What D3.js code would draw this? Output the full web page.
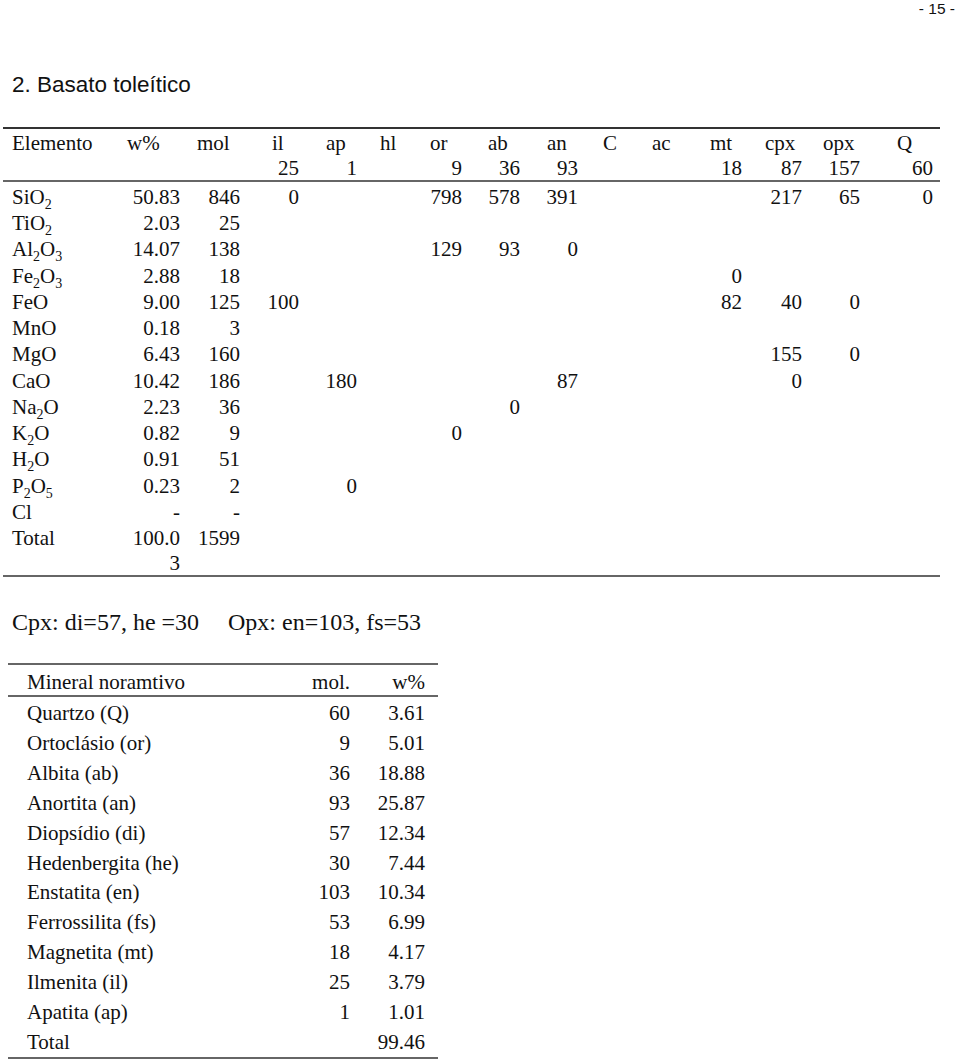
<!DOCTYPE html>
<html>
<head>
<meta charset="utf-8">
<script src="https://cdn.jsdelivr.net/npm/d3@7"></script>
<style>
  body { margin: 0; background: #fff; }
  svg { display: block; }
</style>
</head>
<body>
<div id="chart"></div>
<script>
// rows of the first table (oxides)
const elements = ['SiO2', 'TiO2', 'Al2O3', 'Fe2O3', 'FeO', 'MnO', 'MgO', 'CaO', 'Na2O', 'K2O', 'H2O', 'P2O5', 'Cl', 'Total'];
const weightPct = ['50.83', '2.03', '14.07', '2.88', '9.00', '0.18', '6.43', '10.42', '2.23', '0.82', '0.91', '0.23', '-', '100.03'];
const moles = ['846', '25', '138', '18', '125', '3', '160', '186', '36', '9', '51', '2', '-', '1599'];

// mineral columns and their mol amounts (second header row)
const minerals = ['il', 'ap', 'hl', 'or', 'ab', 'an', 'C', 'ac', 'mt', 'cpx', 'opx', 'Q'];
const mineralMoles = [25, 1, null, 9, 36, 93, null, null, 18, 87, 157, 60];

// remaining oxide after each mineral, per row (il .. Q)
const remaining = [
  [0, null, null, 798, 578, 391, null, null, null, 217, 65, 0],
  [],
  [null, null, null, 129, 93, 0],
  [null, null, null, null, null, null, null, null, 0],
  [100, null, null, null, null, null, null, null, 82, 40, 0],
  [],
  [null, null, null, null, null, null, null, null, null, 155, 0],
  [null, 180, null, null, null, 87, null, null, null, 0],
  [null, null, null, null, 0],
  [null, null, null, 0],
  [],
  [null, 0],
  [],
  []
];

const pyroxeneNote = ['Cpx: di=57, he =30', 'Opx: en=103, fs=53'];

// normative minerals table
const normNames = ['Quartzo (Q)', 'Ortoclásio (or)', 'Albita (ab)', 'Anortita (an)', 'Diopsídio (di)', 'Hedenbergita (he)',
  'Enstatita (en)', 'Ferrossilita (fs)', 'Magnetita (mt)', 'Ilmenita (il)', 'Apatita (ap)', 'Total'];
const normMol = [60, 9, 36, 93, 57, 30, 103, 53, 18, 25, 1, null];
const normWt = ['3.61', '5.01', '18.88', '25.87', '12.34', '7.44', '10.34', '6.99', '4.17', '3.79', '1.01', '99.46'];

const W = 960, H = 1060;
const serif = '"Liberation Serif", "Times New Roman", serif';
const sans = '"Liberation Sans", Arial, sans-serif';
const ink = '#111';
const rule = '#333';

const svg = d3.select('#chart').append('svg')
  .attr('width', W).attr('height', H)
  .style('background', '#fff');

// page number + title
svg.append('text').attr('x', 955).attr('y', 14).attr('text-anchor', 'end')
  .attr('font-family', sans).attr('font-size', 15.5).attr('fill', ink).text('- 15 -');
svg.append('text').attr('x', 12).attr('y', 92)
  .attr('font-family', sans).attr('font-size', 22.5).attr('fill', ink).text('2. Basato toleítico');

// ---------- table 1 ----------
const t1 = svg.append('g').attr('font-family', serif).attr('font-size', 21).attr('fill', ink);

const y = d3.scalePoint().domain(elements).range([197, 538]);
// right edges of numeric columns, left edges of their headers
const colRight = d3.scaleOrdinal().domain(minerals).range([299, 357, 411, 462, 520, 578, 630, 690, 742, 802, 860, 933]);
const colLeft = d3.scaleOrdinal().domain(minerals).range([272, 326, 380, 430, 488, 547, 603, 652, 710, 765, 823, 897]);
const wRight = 180, molRight = 240;

function hline(g, x1, x2, yy, w) {
  g.append('line').attr('x1', x1).attr('x2', x2).attr('y1', yy).attr('y2', yy)
    .attr('stroke', rule).attr('stroke-width', w || 1.6);
}

hline(svg, 3, 940, 128, 1.8);
hline(svg, 3, 940, 181);
hline(svg, 3, 940, 576);

// headers
const hy1 = 150, hy2 = 175;
t1.append('text').attr('x', 12).attr('y', hy1).text('Elemento');
t1.append('text').attr('x', 127).attr('y', hy1).text('w%');
t1.append('text').attr('x', 197).attr('y', hy1).text('mol');
t1.selectAll('.mh').data(minerals).join('text').attr('class', 'mh')
  .attr('x', d => colLeft(d)).attr('y', hy1).text(d => d);
t1.selectAll('.mm').data(minerals.filter((d, i) => mineralMoles[i] != null)).join('text').attr('class', 'mm')
  .attr('x', d => colRight(d)).attr('y', hy2).attr('text-anchor', 'end')
  .text(d => mineralMoles[minerals.indexOf(d)]);

// element names with subscripts
const names = t1.selectAll('.el').data(elements).join('text').attr('class', 'el')
  .attr('x', 12).attr('y', d => y(d) + 7);
names.each(function (d) {
  const t = d3.select(this);
  let low = false;
  d.split(/(\d)/).filter(s => s.length).forEach(s => {
    const isSub = /\d/.test(s);
    const ts = t.append('tspan').text(s);
    if (isSub) {
      ts.attr('font-size', 14).attr('dy', 5);
      low = true;
    } else if (low) {
      ts.attr('dy', -5);
      low = false;
    }
  });
});

// w% and mol
t1.selectAll('.wp').data(elements).join('text').attr('class', 'wp')
  .attr('x', wRight).attr('y', d => y(d) + 7).attr('text-anchor', 'end')
  .each(function (d, i) {
    const v = weightPct[i];
    const t = d3.select(this);
    if (v.length > 5) {
      // wraps in the narrow column
      t.append('tspan').attr('x', wRight).text(v.slice(0, 5));
      t.append('tspan').attr('x', wRight).attr('dy', 25).text(v.slice(5));
    } else {
      t.text(v);
    }
  });
t1.selectAll('.mo').data(elements).join('text').attr('class', 'mo')
  .attr('x', molRight).attr('y', d => y(d) + 7).attr('text-anchor', 'end')
  .text((d, i) => moles[i]);

// remaining amounts
const cells = [];
remaining.forEach((row, r) => row.forEach((v, c) => {
  if (v != null) cells.push({ el: elements[r], min: minerals[c], v });
}));
t1.selectAll('.rc').data(cells).join('text').attr('class', 'rc')
  .attr('x', d => colRight(d.min)).attr('y', d => y(d.el) + 7).attr('text-anchor', 'end')
  .text(d => d.v);

// ---------- pyroxene note ----------
const note = svg.append('g').attr('font-family', serif).attr('font-size', 24).attr('fill', ink);
note.selectAll('text').data(pyroxeneNote).join('text')
  .attr('x', (d, i) => [12, 228][i]).attr('y', 630).text(d => d);

// ---------- table 2 ----------
const t2 = svg.append('g').attr('font-family', serif).attr('font-size', 21).attr('fill', ink);
const y2 = d3.scalePoint().domain(normNames).range([713, 1042]);
const molX = 350, wtX = 425;

hline(svg, 8, 438, 664);
hline(svg, 8, 438, 696);
hline(svg, 8, 438, 1058);

t2.append('text').attr('x', 27).attr('y', 689).text('Mineral noramtivo');
t2.append('text').attr('x', molX).attr('y', 689).attr('text-anchor', 'end').text('mol.');
t2.append('text').attr('x', wtX).attr('y', 689).attr('text-anchor', 'end').text('w%');

t2.selectAll('.nn').data(normNames).join('text').attr('class', 'nn')
  .attr('x', 27).attr('y', d => y2(d) + 7).text(d => d);
t2.selectAll('.nm').data(normNames).join('text').attr('class', 'nm')
  .attr('x', molX).attr('y', d => y2(d) + 7).attr('text-anchor', 'end')
  .text((d, i) => normMol[i] == null ? '' : normMol[i]);
t2.selectAll('.nw').data(normNames).join('text').attr('class', 'nw')
  .attr('x', wtX).attr('y', d => y2(d) + 7).attr('text-anchor', 'end')
  .text((d, i) => normWt[i]);
</script>
</body>
</html>
